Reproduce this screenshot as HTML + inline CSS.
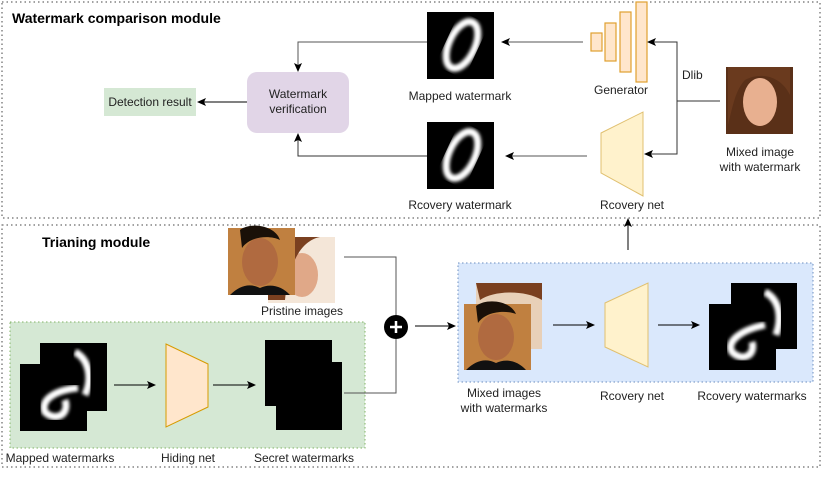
<!DOCTYPE html>
<html><head><meta charset="utf-8"><style>
body{margin:0;background:#fff}
svg text{font-family:"Liberation Sans",sans-serif;fill:#222}
</style></head><body>
<svg width="830" height="475" viewBox="0 0 830 475" xmlns="http://www.w3.org/2000/svg">
<defs>
<marker id="a" markerWidth="10" markerHeight="10" refX="8" refY="5" orient="auto" markerUnits="userSpaceOnUse"><path d="M0,1 L9,5 L0,9 L2,5 Z" fill="#000"/></marker>
<filter id="bl"><feGaussianBlur stdDeviation="1.5"/></filter>
<radialGradient id="f1" cx="50%" cy="45%" r="60%"><stop offset="0" stop-color="#d89a70"/><stop offset="0.6" stop-color="#a4603a"/><stop offset="1" stop-color="#3a2418"/></radialGradient>
<radialGradient id="f2" cx="50%" cy="50%" r="60%"><stop offset="0" stop-color="#e8b8a0"/><stop offset="0.55" stop-color="#b97a55"/><stop offset="1" stop-color="#6a3a20"/></radialGradient>
<radialGradient id="f3" cx="50%" cy="55%" r="60%"><stop offset="0" stop-color="#f0c8a8"/><stop offset="0.5" stop-color="#c08860"/><stop offset="1" stop-color="#5a3018"/></radialGradient>
</defs>
<rect x="2" y="2" width="818" height="216" fill="none" stroke="#444" stroke-dasharray="1.5,3"/>
<rect x="2" y="225" width="818" height="242" fill="none" stroke="#444" stroke-dasharray="1.5,3"/>
<text x="12" y="23" font-size="14" font-weight="bold" style="fill:#000">Watermark comparison module</text>
<rect x="104" y="88" width="92" height="28" fill="#d5e8d4"/>
<text x="150" y="106" font-size="12" text-anchor="middle">Detection result</text>
<rect x="247" y="72" width="102" height="61" rx="10" fill="#e1d5e7"/>
<text x="298" y="98" font-size="12" text-anchor="middle">Watermark</text>
<text x="298" y="113" font-size="12" text-anchor="middle">verification</text>
<line x1="247" y1="102" x2="198" y2="102" stroke="#000" marker-end="url(#a)"/>
<rect x="427" y="12" width="67" height="67" fill="#000"/>
<ellipse cx="462" cy="45" rx="13" ry="25" transform="rotate(25 462 45)" fill="none" stroke="#fff" stroke-width="7" filter="url(#bl)"/>
<text x="460" y="100" font-size="12" text-anchor="middle">Mapped watermark</text>
<polyline points="427,42 298,42 298,71" fill="none" stroke="#555" marker-end="url(#a)"/>
<line x1="583" y1="42" x2="502" y2="42" stroke="#555" marker-end="url(#a)"/>
<g fill="#ffe6cc" stroke="#e0a030" stroke-width="1.2">
<rect x="591" y="33" width="11" height="18"/><rect x="605" y="23" width="11" height="38"/><rect x="620" y="12" width="11" height="60"/><rect x="636" y="2" width="11" height="80"/></g>
<text x="621" y="94" font-size="12" text-anchor="middle">Generator</text>
<polyline points="720,101 677,101 677,42 648,42" fill="none" stroke="#333" marker-end="url(#a)"/>
<polyline points="677,101 677,154 645,154" fill="none" stroke="#333" marker-end="url(#a)"/>
<text x="682" y="79" font-size="12">Dlib</text>
<rect x="726" y="67" width="67" height="67" fill="#5a3018"/>
<ellipse cx="760" cy="102" rx="17" ry="24" fill="#e8b090"/>
<path d="M728,67 H790 V95 C780,75 760,72 745,80 C735,90 732,110 728,125 Z" fill="#6a3a1e"/>
<text x="760" y="156" font-size="12" text-anchor="middle">Mixed image</text>
<text x="760" y="171" font-size="12" text-anchor="middle">with watermark</text>
<polygon points="601,133 643,112 643,196 601,173" fill="#fff2cc" stroke="#e0c070"/>
<text x="632" y="209" font-size="12" text-anchor="middle">Rcovery net</text>
<line x1="587" y1="156" x2="506" y2="156" stroke="#555" marker-end="url(#a)"/>
<rect x="427" y="122" width="67" height="67" fill="#000"/>
<ellipse cx="462" cy="155" rx="13" ry="25" transform="rotate(25 462 155)" fill="none" stroke="#fff" stroke-width="7" filter="url(#bl)"/>
<text x="460" y="209" font-size="12" text-anchor="middle">Rcovery watermark</text>
<polyline points="427,156 298,156 298,134" fill="none" stroke="#333" marker-end="url(#a)"/>
<text x="42" y="247" font-size="14" font-weight="bold" style="fill:#000">Trianing module</text>
<rect x="268" y="237" width="67" height="66" fill="#f4e6d8"/>
<ellipse cx="302" cy="275" rx="16" ry="22" fill="#e0a888"/>
<path d="M268,237 H320 C305,240 290,255 285,300 H268 Z" fill="#7a4020"/>
<rect x="228" y="228" width="67" height="67" fill="#c08040"/>
<ellipse cx="260" cy="262" rx="18" ry="24" fill="#b06a40"/>
<path d="M240,230 C250,222 275,225 280,240 C270,235 250,236 242,248 Z" fill="#1a1008"/>
<path d="M230,295 C240,285 250,283 260,288 C270,283 282,286 290,295 Z" fill="#111"/>
<text x="302" y="315" font-size="12" text-anchor="middle">Pristine images</text>
<rect x="10" y="322" width="355" height="126" fill="#d5e8d4" stroke="#82b366" stroke-dasharray="1.5,2.5"/>
<rect x="40" y="343" width="67" height="68" fill="#000"/>
<rect x="20" y="364" width="67" height="67" fill="#000"/>
<path d="M75,352 C90,360 92,380 85,395" fill="none" stroke="#fff" stroke-width="7" filter="url(#bl)"/>
<path d="M78,388 C55,390 40,400 45,412 C55,422 70,415 65,400" fill="none" stroke="#fff" stroke-width="7" filter="url(#bl)"/>
<line x1="114" y1="385" x2="155" y2="385" stroke="#000" marker-end="url(#a)"/>
<polygon points="166,344 208,364 208,407 166,427" fill="#ffe6cc" stroke="#d79b00"/>
<line x1="213" y1="385" x2="255" y2="385" stroke="#000" marker-end="url(#a)"/>
<rect x="265" y="340" width="67" height="66" fill="#000"/>
<rect x="276" y="362" width="66" height="68" fill="#000"/>
<text x="60" y="462" font-size="12" text-anchor="middle">Mapped watermarks</text>
<text x="188" y="462" font-size="12" text-anchor="middle">Hiding net</text>
<text x="304" y="462" font-size="12" text-anchor="middle">Secret watermarks</text>
<polyline points="344,257 396,257 396,315" fill="none" stroke="#555"/>
<polyline points="344,393 396,393 396,339" fill="none" stroke="#555"/>
<circle cx="396" cy="327" r="12" fill="#000"/>
<path d="M390,327 H402 M396,321 V333" stroke="#fff" stroke-width="2.5"/>
<line x1="415" y1="326" x2="455" y2="326" stroke="#000" marker-end="url(#a)"/>
<rect x="458" y="263" width="355" height="119" fill="#dae8fc" stroke="#6c8ebf" stroke-dasharray="1.5,2.5"/>
<rect x="476" y="283" width="66" height="66" fill="#e8d0b8"/>
<path d="M476,283 H542 V300 C525,290 495,290 480,300 Z" fill="#7a4020"/>
<rect x="464" y="304" width="67" height="66" fill="#c08040"/>
<ellipse cx="496" cy="337" rx="18" ry="23" fill="#b06a40"/>
<path d="M476,306 C486,298 510,300 516,314 C506,310 486,311 478,323 Z" fill="#1a1008"/>
<path d="M466,370 C476,360 486,358 496,363 C506,358 518,361 526,370 Z" fill="#111"/>
<text x="504" y="397" font-size="12" text-anchor="middle">Mixed images</text>
<text x="504" y="412" font-size="12" text-anchor="middle">with watermarks</text>
<line x1="553" y1="325" x2="594" y2="325" stroke="#000" marker-end="url(#a)"/>
<polygon points="605,303 648,283 648,367 605,347" fill="#fff2cc" stroke="#e0c070"/>
<text x="632" y="400" font-size="12" text-anchor="middle">Rcovery net</text>
<line x1="658" y1="325" x2="699" y2="325" stroke="#000" marker-end="url(#a)"/>
<rect x="731" y="283" width="66" height="66" fill="#000"/>
<rect x="709" y="304" width="67" height="66" fill="#000"/>
<path d="M765,292 C780,300 782,318 776,335" fill="none" stroke="#fff" stroke-width="7" filter="url(#bl)"/>
<path d="M765,325 C740,330 726,342 732,352 C742,362 756,356 752,342" fill="none" stroke="#fff" stroke-width="7" filter="url(#bl)"/>
<text x="752" y="400" font-size="12" text-anchor="middle">Rcovery watermarks</text>
<line x1="628" y1="250" x2="628" y2="219" stroke="#000" marker-end="url(#a)"/>
</svg>
</body></html>
